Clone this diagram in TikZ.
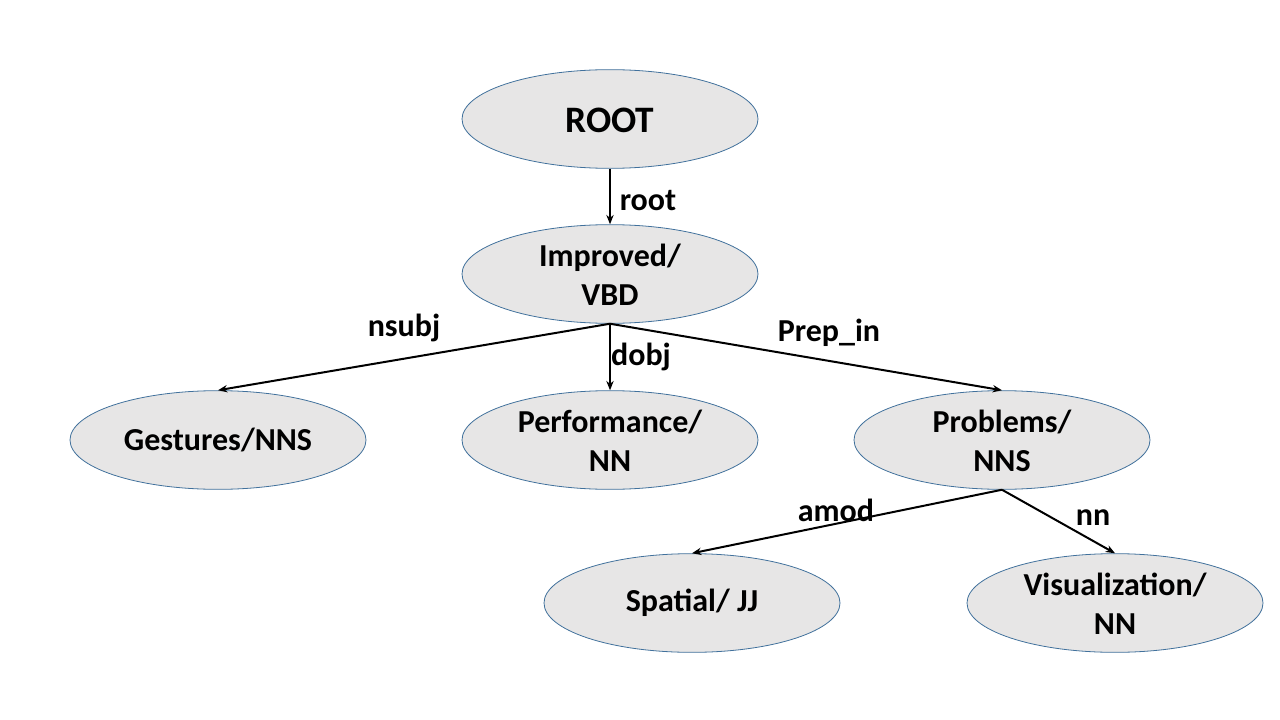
\documentclass[tikz,border=0pt]{standalone}
\usepackage{fontspec}
\setmainfont{Carlito}
\usetikzlibrary{shapes.geometric,arrows.meta}
\definecolor{ellfill}{HTML}{E7E6E6}
\definecolor{elldraw}{HTML}{41719C}
\tikzset{
  ellbox/.style={ellipse, draw=elldraw, line width=0.6pt, fill=ellfill,
    minimum width=222pt, minimum height=74pt, inner sep=0pt},
  elltext/.style={font=\fontsize{24}{29}\selectfont\bfseries, align=center, inner sep=0pt},
  edgelbl/.style={font=\fontsize{24}{29}\selectfont\bfseries, inner sep=0pt},
  dep/.style={line width=1.5pt, -{Stealth[length=7pt,width=5.5pt]}}
}
\begin{document}
\begin{tikzpicture}[x=0.75pt,y=-0.75pt]
\useasboundingbox (0,0) rectangle (1280,720);
\node[ellbox] (rootn) at (610,119) {};
\node[font=\fontsize{28}{34}\selectfont\bfseries, inner sep=0pt] (roott) at (610,120) {ROOT};
\node[ellbox] (imp) at (610,274) {};
\node[elltext] (impt) at (610,275) {Improved/\\VBD};
\node[ellbox] (ges) at (218,440) {};
\node[elltext] (gest) at (218,440) {Gestures/NNS};
\node[ellbox] (perf) at (610,440) {};
\node[elltext] (perft) at (610,441) {Performance/\\NN};
\node[ellbox] (prob) at (1002,440) {};
\node[elltext] (probt) at (1002,441) {Problems/\\NNS};
\node[ellbox] (spat) at (692,603) {};
\node[elltext] (spatt) at (692,603) {Spatial/ JJ};
\node[ellbox] (vis) at (1115,603) {};
\node[elltext] (vist) at (1115,604) {Visualization/\\NN};

\draw[dep] (rootn.south) -- (imp.north);
\draw[dep] (imp.south) -- (ges.north);
\draw[dep] (imp.south) -- (perf.north);
\draw[dep] (imp.south) -- (prob.north);
\draw[dep] (prob.south) -- (spat.north);
\draw[dep] (prob.south) -- (vis.north);

\node[edgelbl] (l1) at (648,201) {root};
\node[edgelbl] (l2) at (404,328) {nsubj};
\node[edgelbl] (l3) at (641,357) {dobj};
\node[edgelbl] (l4) at (829,333) {Prep\_in};
\node[edgelbl] (l5) at (836,510) {amod};
\node[edgelbl] (l6) at (1093,518) {nn};
\end{tikzpicture}
\end{document}
